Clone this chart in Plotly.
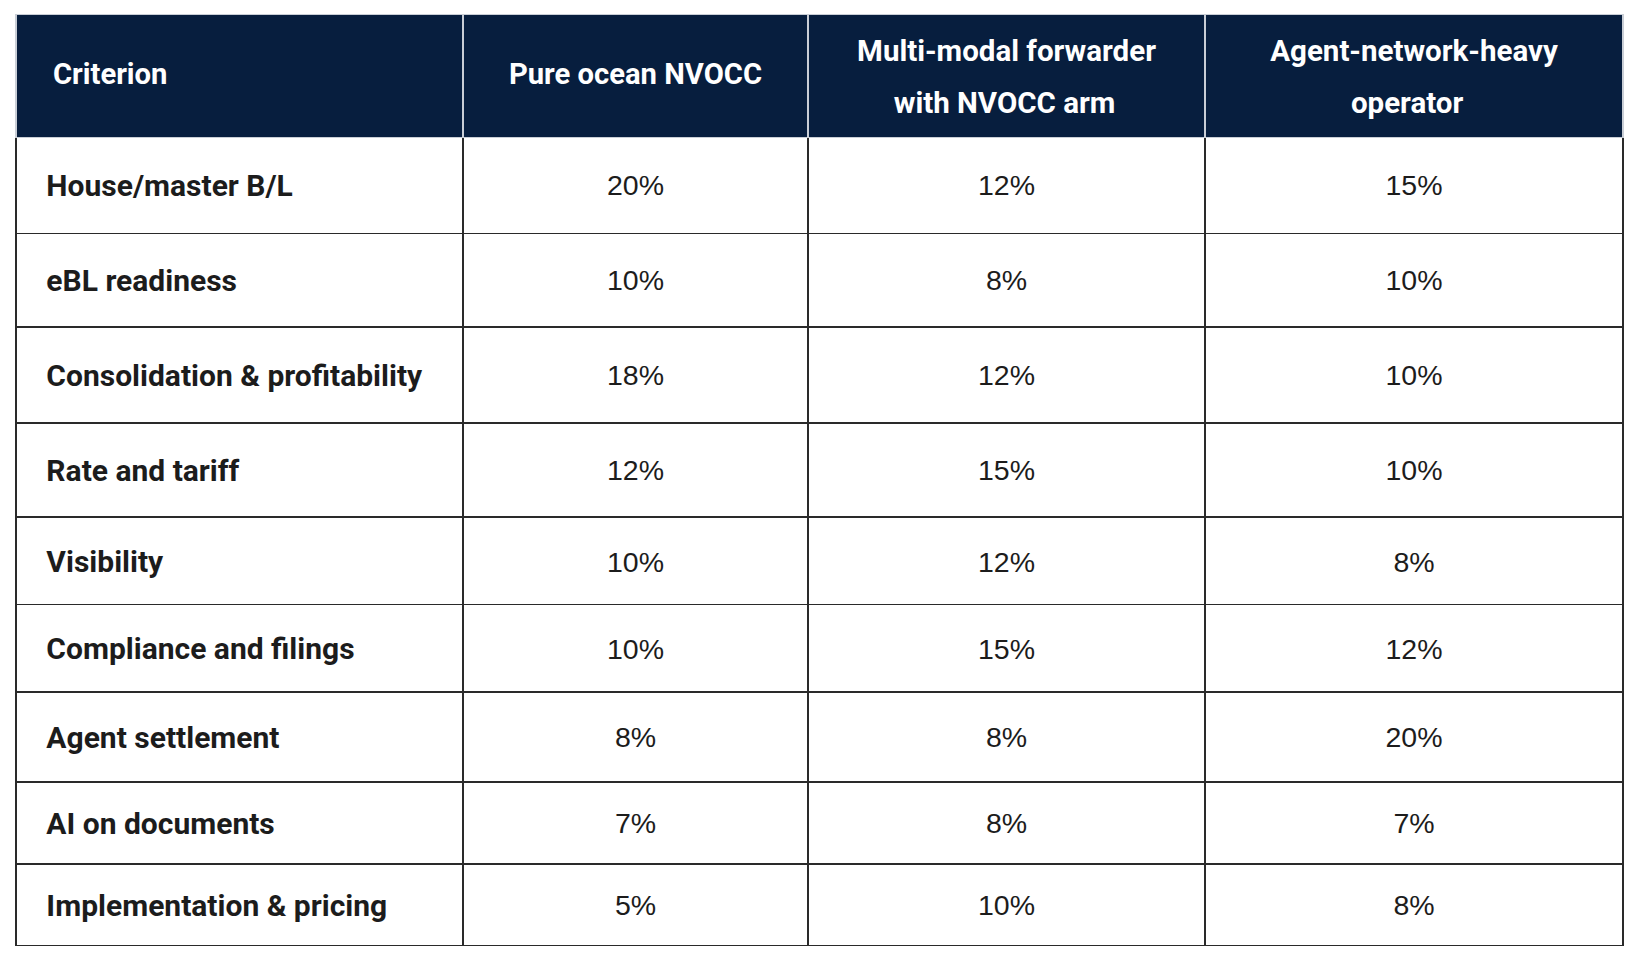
import plotly.graph_objects as go

columns = ["Criterion", "Pure ocean NVOCC", "Multi-modal forwarder", "Agent-network-heavy"]
columns_line2 = ["", "", "with NVOCC arm", "operator"]
criteria = ["House/master B/L", "eBL readiness", "Consolidation & profitability", "Rate and tariff",
            "Visibility", "Compliance and filings", "Agent settlement", "AI on documents",
            "Implementation & pricing"]
pure_ocean = [20, 10, 18, 12, 10, 10, 8, 7, 5]
multi_modal = [12, 8, 12, 15, 12, 15, 8, 8, 10]
agent_network = [15, 10, 10, 10, 8, 12, 20, 7, 8]

# ---- layout / style settings ----
# page has an 8px body margin, so the figure is 16px smaller than the window
W, H = 1623, 944
NB = "\u00a0"
ROW_H = [96, 94, 95.2, 93.2, 88.6, 88.4, 89, 81.3, 81.3]   # target row heights (px)
BASE = 13          # base font size of the cell text element (sets line spacing)
ASC, DESC, LS, PAD = 0.928, 0.244, 1.3, 8
HALF_CAP, SHIFT = 10.5, 0.5


def span(txt, size, bold=False):
    t = f"<span style='font-size:{size:.2f}px'>{txt}</span>"
    return f"<b>{t}</b>" if bold else t


# spacer sizes so that each row gets its height and the text sits near the middle
spacers = []
for h in ROW_H:
    a = (h / 2 + SHIFT + HALF_CAP - PAD - LS * BASE) / ASC
    b = (h - 2 * PAD - ASC * a - 2 * LS * BASE) / DESC
    spacers.append((a, max(b, 1)))

header_vals = []
line2_indent = {2: 5, 3: 11}
for i, (l1, l2) in enumerate(zip(columns, columns_line2)):
    if l2:
        header_vals.append(NB + span(l1, 29.5, True) + NB + "<br>" + NB
                           + span(NB * line2_indent[i] + l2, 29.5, True))
    else:
        pad = NB * 4 if i == 0 else ""
        header_vals.append(NB + "<br>" + span(pad + l1, 29.2, True))


def cell_col(vals, size, bold=False, pad=""):
    out = []
    for v, (a, b) in zip(vals, spacers):
        out.append(span(NB, a) + "<br>" + span(pad + v, size, bold) + "<br>" + span(NB, b))
    return out


cell_vals = [
    cell_col(criteria, 30, True, NB * 3),
    cell_col([f"{v}%" for v in pure_ocean], 28.5),
    cell_col([f"{v}%" for v in multi_modal], 28.5),
    cell_col([f"{v}%" for v in agent_network], 28.5),
]

fig = go.Figure(go.Table(
    domain=dict(x=[8 / W, 1615 / W], y=[0, 1 - 6.5 / H]),
    columnwidth=[447, 345, 397, 418],
    header=dict(
        values=header_vals,
        fill_color="#071E3E",
        line=dict(color="#C9CED6", width=1.5),
        align=["left", "center", "center", "center"],
        font=dict(family="Roboto", size=[27.5, 27.5, 40.5, 40.5], color="white"),
        height=123,
    ),
    cells=dict(
        values=cell_vals,
        fill_color="white",
        line=dict(color="#2A2A2A", width=1.6),
        align=["left", "center", "center", "center"],
        font=dict(family=["Roboto", "Liberation Sans", "Liberation Sans", "Liberation Sans"],
                  size=BASE, color="#1C1C1C"),
        height=20,
    ),
))

fig.update_layout(
    width=W, height=H,
    margin=dict(l=0, r=0, t=0, b=0),
    paper_bgcolor="white",
    plot_bgcolor="white",
)

fig.write_html("out.html")
